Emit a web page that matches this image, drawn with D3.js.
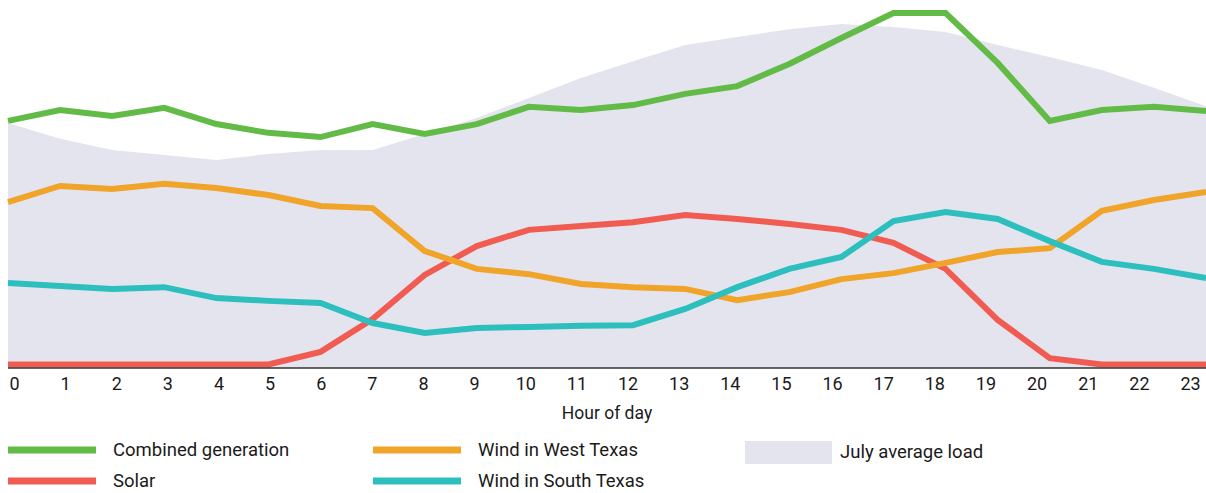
<!DOCTYPE html>
<html>
<head>
<meta charset="utf-8">
<script src="https://cdn.jsdelivr.net/npm/d3@7"></script>
<style>
  body { margin: 0; background: #fff; }
  svg text { font-family: Roboto, "Open Sans", sans-serif; fill: #1a1a1a; }
</style>
</head>
<body>
<main></main>
<script>
// datos (unidades relativas, pico de generacion = 100)
const hours = d3.range(0, 24);

const combined = [69.3, 72.4, 70.7, 73.0, 68.4, 65.9, 64.7, 68.4, 65.6, 68.4, 73.3, 72.4,
  73.8, 77.0, 79.2, 85.5, 92.9, 100, 100, 85.8, 69.3, 72.4, 73.3, 72.1];

const windWest = [46.2, 50.8, 49.9, 51.4, 50.2, 48.2, 45.1, 44.5, 32.3, 27.2, 25.7, 22.9,
  22.0, 21.5, 18.3, 20.6, 24.3, 26.0, 28.9, 32.0, 33.1, 43.7, 46.8, 49.1];

const windSouth = [23.2, 22.3, 21.5, 22.0, 18.9, 18.1, 17.5, 11.8, 9.0, 10.4, 10.7, 11.0,
  11.2, 15.8, 22.0, 27.2, 30.6, 40.8, 43.4, 41.4, 35.1, 29.2, 27.2, 24.6];

const solar = [0, 0, 0, 0, 0, 0, 3.6, 12.9, 25.5, 33.7, 38.3, 39.4,
  40.5, 42.5, 41.4, 40.0, 38.3, 34.6, 27.2, 12.7, 1.8, 0, 0, 0];

const julyLoad = [68.7, 64.2, 61.0, 59.6, 58.2, 59.9, 61.0, 61.0, 65.6, 70.1, 75.8, 81.5,
  86.3, 90.9, 93.2, 95.4, 96.9, 96.0, 94.6, 90.9, 87.5, 83.8, 78.7, 73.5];

const w = 1206;
const h = 493;

const colores = {
  'Combined generation': '#63bb47',
  'Wind in West Texas': '#f0a42a',
  'Solar': '#f15c52',
  'Wind in South Texas': '#2cbfbe',
  'July average load': '#e4e4ee'
};

var svg = d3.select('main')
  .append('svg')
  .attr('width', w)
  .attr('height', h);

const axisY = 368;

// escalas
const x = d3.scaleLinear().domain([0, 23]).range([8, 1206]);
const y = d3.scaleLinear().domain([0, 100]).range([364.5, 13]);
// las etiquetas del eje estan un poco desplazadas respecto a los puntos
const xLabel = d3.scaleLinear().domain([0, 23]).range([14, 1190]);

// area de carga
const area = d3.area()
  .x((d, i) => x(hours[i]))
  .y0(axisY)
  .y1((d) => y(d));

svg.append('path')
  .datum(julyLoad)
  .attr('d', area)
  .attr('fill', colores['July average load']);

// lineas
const line = d3.line()
  .x((d, i) => x(hours[i]))
  .y((d) => y(d));

const series = [
  { name: 'Solar', values: solar },
  { name: 'Wind in West Texas', values: windWest },
  { name: 'Wind in South Texas', values: windSouth },
  { name: 'Combined generation', values: combined }
];

svg.selectAll('.serie')
  .data(series)
  .enter()
  .append('path')
  .attr('class', 'serie')
  .attr('d', (d) => line(d.values))
  .attr('fill', 'none')
  .attr('stroke', (d) => colores[d.name])
  .attr('stroke-width', 6)
  .attr('stroke-linejoin', 'miter');

// eje x
svg.append('line')
  .attr('x1', 8)
  .attr('x2', 1206)
  .attr('y1', axisY)
  .attr('y2', axisY)
  .attr('stroke', '#333')
  .attr('stroke-width', 1.5);

const ejeX = d3.axisBottom(xLabel)
  .tickValues(hours)
  .tickFormat(d3.format('d'))
  .tickSize(0)
  .tickPadding(0);

const gx = svg.append('g')
  .attr('transform', `translate(0,${axisY})`)
  .call(ejeX);

gx.select('.domain').remove();
gx.selectAll('text')
  .attr('y', 22)
  .attr('dy', 0)
  .style('font-size', '18px')
  .style('font-family', 'Roboto, sans-serif')
  .attr('fill', '#1a1a1a');

svg.append('text')
  .attr('x', 607)
  .attr('y', 419)
  .attr('text-anchor', 'middle')
  .style('font-size', '17.5px')
  .text('Hour of day');

// leyenda
const legendItems = [
  { name: 'Combined generation', lx: 8, ly: 450, type: 'line' },
  { name: 'Solar', lx: 8, ly: 481, type: 'line' },
  { name: 'Wind in West Texas', lx: 373, ly: 450, type: 'line' },
  { name: 'Wind in South Texas', lx: 373, ly: 481, type: 'line' },
  { name: 'July average load', lx: 745, ly: 452, type: 'box' }
];

var legend = svg.append('g').attr('id', 'legend');

var item = legend.selectAll('g')
  .data(legendItems)
  .enter()
  .append('g')
  .attr('transform', (d) => `translate(${d.lx},${d.ly})`);

item.filter((d) => d.type === 'line')
  .append('rect')
  .attr('x', 0)
  .attr('y', -3.5)
  .attr('width', 88)
  .attr('height', 7)
  .attr('fill', (d) => colores[d.name]);

item.filter((d) => d.type === 'box')
  .append('rect')
  .attr('x', 0)
  .attr('y', -11)
  .attr('width', 87)
  .attr('height', 23)
  .attr('fill', (d) => colores[d.name]);

item.append('text')
  .attr('x', (d) => d.type === 'box' ? 95 : 105)
  .attr('y', 0)
  .attr('dy', '0.35em')
  .style('font-size', '18.5px')
  .text((d) => d.name);
</script>
</body>
</html>
